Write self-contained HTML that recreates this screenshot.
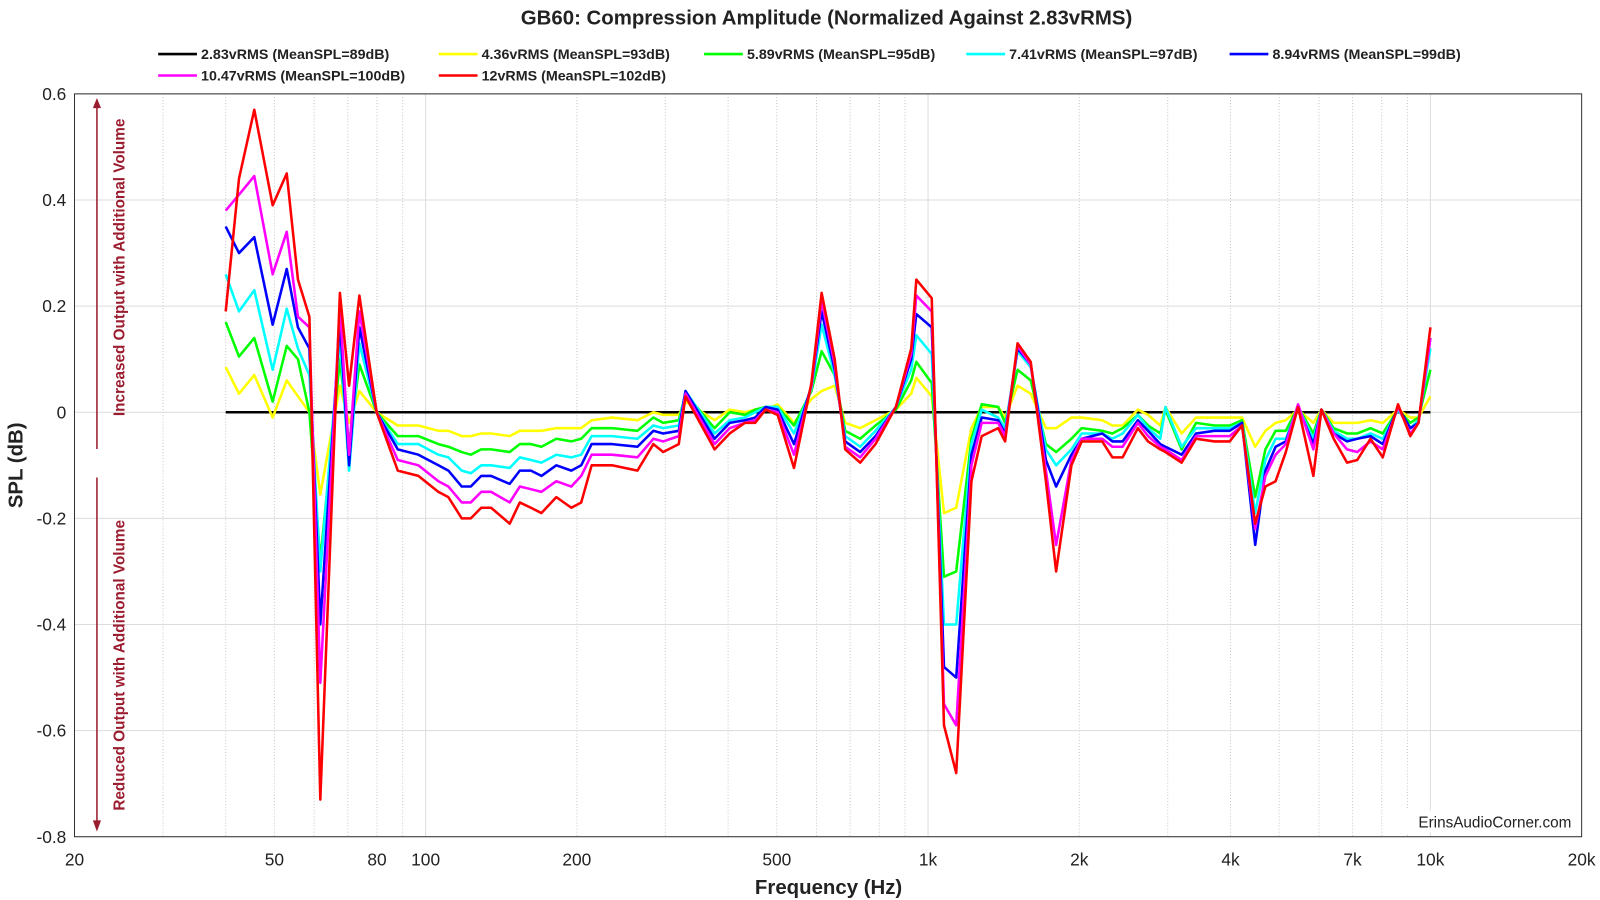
<!DOCTYPE html>
<html><head><meta charset="utf-8"><style>
body{margin:0;background:#fff;font-family:"Liberation Sans",Arial,sans-serif;}
svg{display:block;}
svg text{font-family:"Liberation Sans",Arial,sans-serif;}
</style></head><body>
<svg id="chart" width="1600" height="900" viewBox="0 0 1568 882" preserveAspectRatio="none" xmlns="http://www.w3.org/2000/svg">
<rect width="1568" height="882" fill="#fff"/>
<text x="810" y="24" text-anchor="middle" font-size="20" font-weight="bold" fill="#222">GB60: Compression Amplitude (Normalized Against 2.83vRMS)</text>
<g id="grid"></g><g id="series"></g><g id="axes"></g>
<g id="legend"></g>
<text transform="translate(22,456) rotate(-90)" text-anchor="middle" font-size="20" font-weight="bold" fill="#222">SPL (dB)</text>
<text x="812" y="876" text-anchor="middle" font-size="20" font-weight="bold" fill="#222">Frequency (Hz)</text>
<g fill="#9b1c2e" stroke="#9b1c2e">
<line x1="95" y1="104" x2="95" y2="440" stroke-width="1.5"/><polygon points="91,106 99,106 95,96" stroke="none"/>
<text transform="translate(122,262) rotate(-90)" text-anchor="middle" font-size="15" font-weight="bold" stroke="none">Increased Output with Additional Volume</text></g>
<g fill="#9b1c2e" stroke="#9b1c2e">
<line x1="95" y1="468" x2="95" y2="806" stroke-width="1.5"/><polygon points="91,804 99,804 95,815" stroke="none"/>
<text transform="translate(122,652) rotate(-90)" text-anchor="middle" font-size="15" font-weight="bold" stroke="none">Reduced Output with Additional Volume</text></g>
<rect x="1376" y="794" width="168" height="22" fill="#fff"/>
<text x="1540" y="811" text-anchor="end" font-size="15" fill="#222">ErinsAudioCorner.com</text>
</svg>
<script>
const freqs=[40,42.5,45.6,49.6,52.9,55.7,58.7,61.7,67.5,70.4,73.8,79.9,
88,96.7,106,111,118,123,129,135,147,154,162,170,182,195,204,214,
235,264,284,297,319,329,376,403,432,453,475,502,
541,586,614,652,684,733,786,863,926,948,1017,
1076,1138,1220,1279,1379,1424,1507,1601,1717,1799,1930,2023,
2222,2328,2440,2616,2742,2900,2969,3198,3416,3716,3986,4217,
4480,4694,4918,5154,5452,5848,6070,6420,6823,7150,7598,8038,8622,9120,9466,10000];
const refFreqs=[40,10000];
const refValues=[0,0];
const v436=[.085,.035,.07,-.01,.06,.03,0,-.155,.05,-.02,.04,0,
-.025,-.025,-.035,-.035,-.045,-.045,-.04,-.04,-.045,-.035,-.035,-.035,-.03,-.03,-.03,-.015,
-.01,-.015,0,-.005,-.005,.02,-.015,.005,0,.005,.005,.015,
-.02,.025,.04,.05,-.02,-.03,-.015,.005,.035,.065,.03,
-.19,-.18,-.03,.01,.01,-.01,.05,.035,-.03,-.03,-.01,-.01,
-.015,-.025,-.025,.005,-.005,-.025,.01,-.04,-.01,-.01,-.01,-.01,
-.065,-.035,-.02,-.015,.005,-.02,.005,-.02,-.02,-.02,-.015,-.02,.005,-.01,-.01,.03];
const v589=[.17,.105,.14,.02,.125,.10,0,-.28,.10,-.06,.09,0,
-.045,-.045,-.06,-.065,-.075,-.08,-.07,-.07,-.075,-.06,-.06,-.065,-.05,-.055,-.05,-.03,
-.03,-.035,-.01,-.02,-.015,.035,-.03,0,-.005,.005,.01,.01,
-.025,.04,.115,.07,-.035,-.05,-.025,.005,.06,.095,.055,
-.31,-.30,-.05,.015,.01,-.02,.08,.06,-.06,-.075,-.05,-.03,
-.035,-.04,-.03,-.005,-.025,-.04,.005,-.07,-.02,-.025,-.025,-.015,
-.16,-.07,-.035,-.035,.01,-.04,.005,-.03,-.04,-.04,-.03,-.04,.005,-.02,-.01,.08];
const v741=[.26,.19,.23,.08,.195,.12,.07,-.30,.14,-.11,.13,0,
-.06,-.06,-.08,-.085,-.11,-.115,-.10,-.10,-.105,-.085,-.09,-.095,-.08,-.085,-.08,-.045,
-.045,-.05,-.025,-.03,-.025,.04,-.04,-.015,-.01,0,.01,.01,
-.04,.045,.165,.07,-.045,-.065,-.035,.01,.08,.145,.11,
-.40,-.40,-.06,.005,-.01,-.03,.115,.085,-.07,-.10,-.07,-.04,
-.04,-.05,-.04,-.005,-.03,-.05,.01,-.065,-.03,-.03,-.03,-.02,
-.19,-.09,-.05,-.05,.01,-.05,.005,-.035,-.05,-.05,-.04,-.05,.005,-.03,-.015,.12];
const v894=[.35,.30,.33,.165,.27,.16,.12,-.40,.17,-.10,.16,0,
-.07,-.08,-.10,-.11,-.14,-.14,-.12,-.12,-.135,-.11,-.11,-.12,-.10,-.11,-.10,-.06,
-.06,-.065,-.035,-.04,-.035,.04,-.05,-.02,-.015,-.01,.01,.005,
-.06,.05,.19,.08,-.055,-.075,-.045,.01,.10,.185,.16,
-.48,-.50,-.08,-.01,-.015,-.04,.12,.09,-.09,-.14,-.08,-.05,
-.04,-.055,-.055,-.015,-.035,-.06,-.065,-.08,-.04,-.035,-.035,-.02,
-.25,-.11,-.065,-.055,.01,-.06,.005,-.04,-.055,-.05,-.045,-.06,.01,-.03,-.02,.14];
const v1047=[.38,.41,.445,.26,.34,.18,.16,-.51,.20,-.08,.19,0,
-.09,-.10,-.13,-.14,-.17,-.17,-.15,-.15,-.17,-.14,-.145,-.15,-.13,-.14,-.12,-.08,
-.08,-.085,-.05,-.055,-.045,.035,-.06,-.03,-.02,-.015,.005,0,
-.08,.05,.21,.09,-.065,-.085,-.05,.01,.11,.22,.19,
-.55,-.59,-.10,-.02,-.02,-.045,.125,.09,-.11,-.25,-.09,-.05,
-.05,-.065,-.065,-.02,-.045,-.065,-.07,-.09,-.045,-.045,-.045,-.025,
-.22,-.12,-.08,-.06,.015,-.07,.005,-.04,-.07,-.075,-.055,-.07,.01,-.04,-.02,.14];
const v12=[.19,.44,.57,.39,.45,.25,.18,-.73,.225,.05,.22,0,
-.11,-.12,-.15,-.16,-.20,-.20,-.18,-.18,-.21,-.17,-.18,-.19,-.16,-.18,-.17,-.10,
-.10,-.11,-.06,-.075,-.06,.03,-.07,-.04,-.02,-.02,.005,-.005,
-.105,.055,.225,.10,-.07,-.095,-.06,.01,.12,.25,.215,
-.59,-.68,-.13,-.045,-.03,-.055,.13,.095,-.13,-.30,-.10,-.055,
-.055,-.085,-.085,-.03,-.055,-.07,-.075,-.095,-.05,-.055,-.055,-.025,
-.21,-.14,-.13,-.075,.01,-.12,.005,-.05,-.095,-.09,-.05,-.085,.015,-.045,-.02,.16];
const seriesLabels=["2.83vRMS (MeanSPL=89dB)","4.36vRMS (MeanSPL=93dB)","5.89vRMS (MeanSPL=95dB)","7.41vRMS (MeanSPL=97dB)","8.94vRMS (MeanSPL=99dB)","10.47vRMS (MeanSPL=100dB)","12vRMS (MeanSPL=102dB)"];
const yTicks=[0.6,0.4,0.2,0,-0.2,-0.4,-0.6,-0.8];
const yTickLabels=["0.6","0.4","0.2","0","-0.2","-0.4","-0.6","-0.8"];
const xTicks=[20,50,80,100,200,500,1000,2000,4000,7000,10000,20000];
const xTickLabels=["20","50","80","100","200","500","1k","2k","4k","7k","10k","20k"];

const L=73,R=1550,T=92,B=820,NS="http://www.w3.org/2000/svg";
const xs=f=>L+(Math.log10(f)-Math.log10(20))/3*(R-L);
const ys=v=>T+(0.6-v)/1.4*(B-T);
function mk(tag,attrs,parent){const e=document.createElementNS(NS,tag);for(const k in attrs)e.setAttribute(k,attrs[k]);parent.appendChild(e);return e;}
const grid=document.getElementById('grid'),axes=document.getElementById('axes'),ser=document.getElementById('series'),leg=document.getElementById('legend');
mk('rect',{x:L,y:T,width:R-L,height:B-T,fill:'#fff'},grid);
for(let d=10;d<=10000;d*=10){for(let m=1;m<=9;m++){const f=d*m;if(f<=20||f>=20000)continue;
const major=(m===1);const g=mk('line',{x1:xs(f),x2:xs(f),y1:T,y2:B,stroke:major?'#dcdcdc':'#c8c8c8','stroke-width':1,'stroke-dasharray':major?'':'1,2'},grid);

}}
yTicks.forEach((v,i)=>{const g=mk('line',{x1:L,x2:R,y1:ys(v),y2:ys(v),stroke:'#dcdcdc','stroke-width':1},grid);


const t=mk('text',{x:L-8,y:ys(v)+6,'text-anchor':'end','font-size':17,fill:'#222'},axes);t.textContent=yTickLabels[i];

});
xTicks.forEach((f,i)=>{const t=mk('text',{x:xs(f),y:848,'text-anchor':'middle','font-size':17,fill:'#222'},axes);t.textContent=xTickLabels[i];

});
const box=mk('rect',{x:L,y:T,width:R-L,height:B-T,fill:'none',stroke:'#333','stroke-width':1},axes);


const colors=['#000000','#ffff00','#00ff00','#00ffff','#0000ff','#ff00ff','#ff0000'];
const data=[[refFreqs,refValues],[freqs,v436],[freqs,v589],[freqs,v741],[freqs,v894],[freqs,v1047],[freqs,v12]];
data.forEach((d,i)=>{const pts=d[0].map((f,j)=>xs(f).toFixed(1)+','+ys(d[1][j]).toFixed(1)).join(' ');
const p=mk('polyline',{points:pts,fill:'none',stroke:colors[i],'stroke-width':2.5,'stroke-linejoin':'round'},ser);

});
const legPos=[[155,53],[430,53],[690,53],[947,53],[1205,53],[155,74],[430,74]];
seriesLabels.forEach((s,i)=>{const [x,y]=legPos[i];
const g=mk('g',{},leg);


mk('line',{x1:x,x2:x+38,y1:y,y2:y,stroke:colors[i],'stroke-width':2.5},g);
const t=mk('text',{x:x+42,y:y+5,'font-size':14,'font-weight':'bold',fill:'#222'},g);t.textContent=s;});
</script>
</body></html>
